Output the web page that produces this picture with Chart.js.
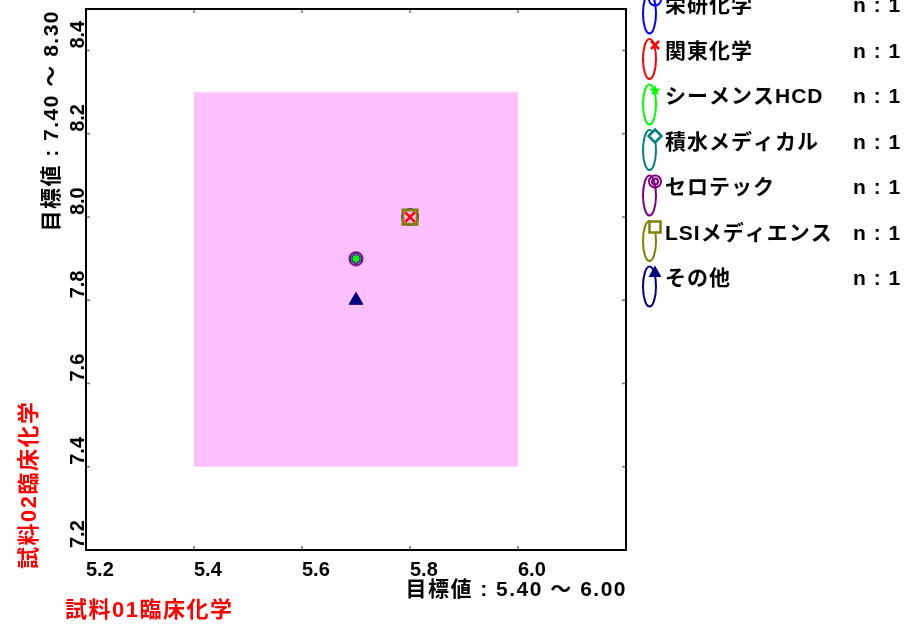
<!DOCTYPE html>
<html>
<head>
<meta charset="utf-8">
<script src="https://cdn.jsdelivr.net/npm/chart.js@4.4.0/dist/chart.umd.min.js"></script>
<style>
  html, body { margin: 0; padding: 0; background: #ffffff; }
  canvas { display: block; }
</style>
</head>
<body>
<canvas id="chart" width="921" height="625"></canvas>
<script>
// Reagent makers and their reported results for the two samples
const groups = ['栄研化学', '関東化学', 'シーメンスHCD', '積水メディカル', 'セロテック', 'LSIメディエンス', 'その他'];
const sample01Values = [5.8, 5.8, 5.7, 5.7, 5.7, 5.8, 5.7];
const sample02Values = [8.0, 8.0, 7.9, 7.9, 7.9, 8.0, 7.8];
const counts = [1, 1, 1, 1, 1, 1, 1];
const groupColors = ['#0000FF', '#FF0000', '#00FF00', '#008080', '#800080', '#808000', '#000080'];

// Target ranges (sample 01 on x, sample 02 on y)
const target01 = [5.40, 6.00];
const target02 = [7.40, 8.30];

// Axis ranges and tick labels
const xRange = [5.2, 6.2];
const yRange = [7.2, 8.5];
const xTickValues = [5.2, 5.4, 5.6, 5.8, 6.0];
const yTickValues = [7.2, 7.4, 7.6, 7.8, 8.0, 8.2, 8.4];

const sample01Name = '試料01臨床化学';
const sample02Name = '試料02臨床化学';

const FONT_FAMILY = '"Liberation Sans", "Noto Sans CJK JP", sans-serif';
const TARGET_FILL = '#FFC0FF';

function ringImage(color) {
  const c = document.createElement('canvas');
  c.width = 16; c.height = 16;
  const g = c.getContext('2d');
  g.strokeStyle = color;
  g.lineWidth = 2;
  g.beginPath(); g.arc(8, 8, 6.5, 0, Math.PI * 2); g.stroke();
  g.beginPath(); g.arc(8, 8, 3.3, 0, Math.PI * 2); g.stroke();
  return c;
}

// Marker style for each maker
const markerStyles = ['circle', 'crossRot', 'star', 'rectRot', ringImage(groupColors[4]), 'rect', 'triangle'];
const markerRadius = [8, 7, 3.5, 6, 8, 10, 8];
const markerBorder = [2, 2.5, 2, 2, 2, 3, 1];
const markerFill = ['rgba(0,0,0,0)', '#FF0000', '#00FF00', 'rgba(0,0,0,0)', 'rgba(0,0,0,0)', TARGET_FILL, '#000080'];
const drawOrder = [3, 0, 0, 2, 1, 1, 0];

const datasets = groups.map((name, i) => ({
  label: name,
  data: [{ x: sample01Values[i], y: sample02Values[i] }],
  pointStyle: markerStyles[i],
  pointRadius: markerRadius[i],
  pointBorderWidth: markerBorder[i],
  pointBorderColor: groupColors[i],
  pointBackgroundColor: markerFill[i],
  order: drawOrder[i]
}));

// Target range rectangle behind the points
const targetBox = {
  id: 'targetBox',
  beforeDatasetsDraw(chart) {
    const { ctx, scales: { x, y } } = chart;
    const x0 = x.getPixelForValue(target01[0]);
    const x1 = x.getPixelForValue(target01[1]);
    const y0 = y.getPixelForValue(target02[1]);
    const y1 = y.getPixelForValue(target02[0]);
    ctx.save();
    ctx.fillStyle = TARGET_FILL;
    ctx.fillRect(x0, y0, x1 - x0, y1 - y0);
    ctx.restore();
  }
};

// Box frame with short inward tick marks
const frame = {
  id: 'frame',
  afterDatasetsDraw(chart) {
    const { ctx, chartArea: a, scales: { x, y } } = chart;
    ctx.save();
    ctx.strokeStyle = '#777777';
    ctx.lineWidth = 1.5;
    const tl = 4;
    x.ticks.forEach(t => {
      const px = x.getPixelForValue(t.value);
      ctx.beginPath();
      ctx.moveTo(px, a.bottom); ctx.lineTo(px, a.bottom - tl);
      ctx.moveTo(px, a.top); ctx.lineTo(px, a.top + tl);
      ctx.stroke();
    });
    y.ticks.forEach(t => {
      if (!yTickValues.some(v => Math.abs(v - t.value) < 1e-6)) return;
      const py = y.getPixelForValue(t.value);
      ctx.beginPath();
      ctx.moveTo(a.left, py); ctx.lineTo(a.left + tl, py);
      ctx.moveTo(a.right, py); ctx.lineTo(a.right - tl, py);
      ctx.stroke();
    });
    ctx.strokeStyle = '#000000';
    ctx.lineWidth = 2;
    ctx.strokeRect(a.left, a.top, a.right - a.left, a.bottom - a.top);
    ctx.restore();
  }
};

function drawLegendMarker(ctx, i, mx, my) {
  const col = groupColors[i];
  ctx.save();
  ctx.strokeStyle = col;
  ctx.fillStyle = col;
  ctx.lineWidth = 2;
  ctx.beginPath();
  switch (i) {
    case 0:
      ctx.arc(mx, my, 6, 0, Math.PI * 2); ctx.stroke(); break;
    case 1:
      ctx.lineWidth = 2.5;
      ctx.moveTo(mx - 4, my - 4); ctx.lineTo(mx + 4, my + 4);
      ctx.moveTo(mx + 4, my - 4); ctx.lineTo(mx - 4, my + 4);
      ctx.stroke(); break;
    case 2:
      for (let k = 0; k < 5; k++) {
        const a = -Math.PI / 2 + k * 2 * Math.PI / 5;
        const b = a + Math.PI / 5;
        ctx.lineTo(mx + Math.cos(a) * 6, my + Math.sin(a) * 6);
        ctx.lineTo(mx + Math.cos(b) * 2.6, my + Math.sin(b) * 2.6);
      }
      ctx.closePath(); ctx.fill(); break;
    case 3:
      ctx.lineWidth = 2.5;
      ctx.moveTo(mx, my - 6.5); ctx.lineTo(mx + 6.5, my); ctx.lineTo(mx, my + 6.5); ctx.lineTo(mx - 6.5, my);
      ctx.closePath(); ctx.fillStyle = '#ffffff'; ctx.fill(); ctx.stroke(); break;
    case 4:
      ctx.arc(mx, my, 6, 0, Math.PI * 2); ctx.stroke();
      ctx.beginPath(); ctx.arc(mx, my, 3, 0, Math.PI * 2); ctx.stroke(); break;
    case 5:
      ctx.lineWidth = 2.5;
      ctx.rect(mx - 5.5, my - 5.5, 11, 11); ctx.fillStyle = '#ffffff'; ctx.fill(); ctx.stroke(); break;
    case 6:
      ctx.moveTo(mx, my - 7); ctx.lineTo(mx + 6.5, my + 4.5); ctx.lineTo(mx - 6.5, my + 4.5);
      ctx.closePath(); ctx.fill(); break;
  }
  ctx.restore();
}

// Axis labels, titles and the maker legend
const annotations = {
  id: 'annotations',
  afterDraw(chart) {
    const { ctx, chartArea: a, scales: { y } } = chart;
    ctx.save();
    ctx.fillStyle = '#000000';

    // y tick labels, rotated, starting at their tick
    ctx.font = 'bold 20px ' + FONT_FAMILY;
    yTickValues.forEach(v => {
      const py = y.getPixelForValue(v);
      ctx.save();
      ctx.translate(78, py);
      ctx.rotate(-Math.PI / 2);
      ctx.textAlign = 'left';
      ctx.textBaseline = 'middle';
      ctx.fillText(v.toFixed(1), 2, 0);
      ctx.restore();
    });

    // axis titles with target ranges
    ctx.font = 'bold 21px ' + FONT_FAMILY;
    ctx.letterSpacing = '1.5px';
    ctx.save();
    ctx.translate(52, a.top + 1);
    ctx.rotate(-Math.PI / 2);
    ctx.textAlign = 'right';
    ctx.textBaseline = 'middle';
    ctx.fillText('目標値 : ' + target02[0].toFixed(2) + ' ～ ' + target02[1].toFixed(2), 0, 0);
    ctx.restore();

    ctx.textAlign = 'right';
    ctx.textBaseline = 'middle';
    ctx.fillText('目標値 : ' + target01[0].toFixed(2) + ' ～ ' + target01[1].toFixed(2), a.right + 1, 590);

    // sample names in red
    ctx.fillStyle = '#FF0000';
    ctx.font = 'bold 22px ' + FONT_FAMILY;
    ctx.letterSpacing = '1.5px';
    ctx.textAlign = 'left';
    ctx.fillText(sample01Name, 65, 611);
    ctx.save();
    ctx.translate(30, 569);
    ctx.rotate(-Math.PI / 2);
    ctx.textAlign = 'left';
    ctx.textBaseline = 'middle';
    ctx.fillText(sample02Name, 0, 0);
    ctx.restore();
    ctx.letterSpacing = '0px';

    // legend
    groups.forEach((name, i) => {
      const rc = 6.5 + 45.5 * i;
      ctx.save();
      ctx.strokeStyle = groupColors[i];
      ctx.lineWidth = 2;
      ctx.beginPath();
      ctx.ellipse(649.5, rc + 7, 6.5, 20, 0, 0, Math.PI * 2);
      ctx.stroke();
      ctx.restore();
      drawLegendMarker(ctx, i, 655, rc - 7);

      ctx.fillStyle = '#000000';
      ctx.font = 'bold 21px ' + FONT_FAMILY;
      ctx.textAlign = 'left';
      ctx.textBaseline = 'middle';
      ctx.letterSpacing = '1px';
      ctx.fillText(name, 665, rc);
      ctx.fillText('n : ' + counts[i], 853, rc);
      ctx.letterSpacing = '0px';
    });
    ctx.restore();
  }
};

new Chart(document.getElementById('chart'), {
  type: 'scatter',
  data: { datasets },
  options: {
    responsive: false,
    animation: false,
    events: [],
    layout: { autoPadding: false, padding: { top: 9, right: 295, left: 0, bottom: 0 } },
    plugins: { legend: { display: false }, tooltip: { enabled: false } },
    scales: {
      x: {
        type: 'linear',
        position: 'bottom',
        min: xRange[0],
        max: xRange[1],
        afterFit(s) { s.height = 75; },
        grid: { display: false, drawTicks: false },
        border: { display: false },
        ticks: {
          stepSize: 0.2,
          align: 'start',
          padding: 8,
          color: '#000000',
          font: { family: FONT_FAMILY, size: 20, weight: 'bold' },
          callback: v => xTickValues.some(t => Math.abs(t - v) < 1e-6) ? Number(v).toFixed(1) : ''
        }
      },
      y: {
        type: 'linear',
        min: yRange[0],
        max: yRange[1],
        afterFit(s) { s.width = 86; s.paddingTop = 0; s.paddingBottom = 0; },
        grid: { display: false, drawTicks: false },
        border: { display: false },
        ticks: { stepSize: 0.2, display: false }
      }
    }
  },
  plugins: [targetBox, frame, annotations]
});
</script>
</body>
</html>
